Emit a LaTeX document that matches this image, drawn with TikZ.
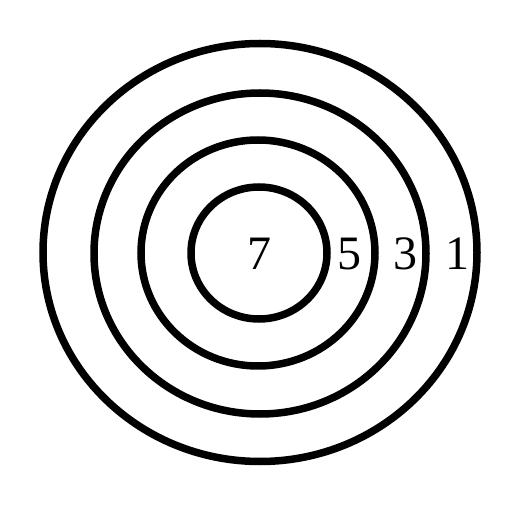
\documentclass[tikz,border=0pt]{standalone}
\usepackage{fontspec}
\setmainfont{Liberation Serif}
\begin{document}
\begin{tikzpicture}[x=1pt,y=1pt,
  ring/.style={line width=7.5pt, draw=black},
  num/.style={font=\fontsize{48}{48}\selectfont, anchor=base, inner sep=0pt}]
\useasboundingbox (0,0) rectangle (528,504);
\draw[ring] (260,251.5) ellipse [x radius=217, y radius=209];
\draw[ring] (260,250.5) ellipse [x radius=166, y radius=160.5];
\draw[ring] (258,251) ellipse [x radius=117, y radius=113];
\draw[ring] (259,251) ellipse [x radius=68, y radius=66];
\node[num] (n7) at (259,234) {7};
\node[num] (n5) at (349,234) {5};
\node[num] (n3) at (405,234) {3};
\node[num] (n1) at (457.5,234) {1};
\end{tikzpicture}
\end{document}
